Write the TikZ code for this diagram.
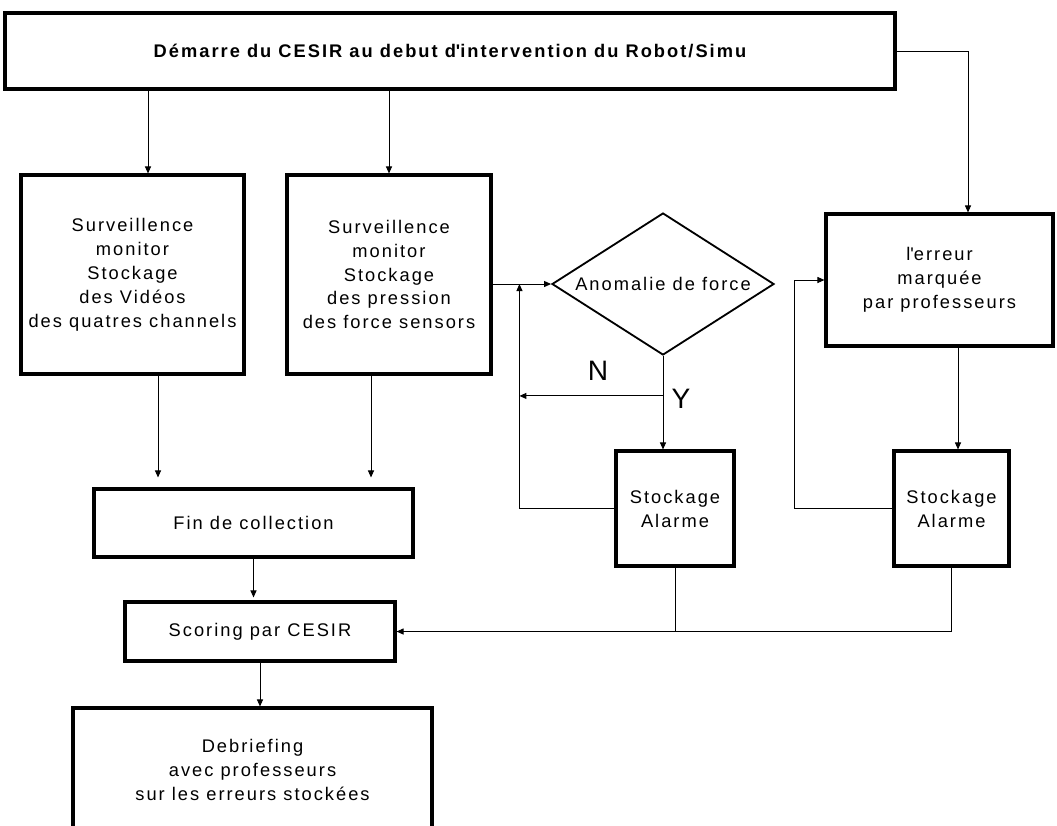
\documentclass[tikz,border=0pt]{standalone}
\usepackage{fontspec}
\setmainfont{Liberation Sans}[LetterSpace=11]
\usetikzlibrary{shapes.geometric, arrows.meta, calc}

\newlength\px
\setlength\px{0.025cm}
\newcommand\flowfont{\fontsize{13}{17}\selectfont}

\tikzset{
    block/.style={draw, line width=2.2pt, align=center, inner sep=0pt, font=\flowfont},
    decision/.style={draw, diamond, line width=1.3pt, inner sep=0pt},
    line/.style={line width=0.7pt},
    arr/.style={line, -{Triangle[length=1.75mm, width=1.5mm]}},
}

\begin{document}
\begin{tikzpicture}[x=0.025cm, y=-0.025cm]
    \useasboundingbox (0,0) rectangle (1057,825);

    % blocs
    \node[block, minimum width=890\px, minimum height=76\px, font=\flowfont\bfseries] (start) at (450,51) {Démarre du CESIR au debut d\textquotesingle intervention du Robot/Simu};
    \node[block, minimum width=223\px, minimum height=199\px] (surv1) at (132.5,274.5) {Surveillence\\monitor\\Stockage\\des Vidéos\\des quatres channels};
    \node[block, minimum width=204\px, minimum height=199\px] (surv2) at (389,274.5) {Surveillence\\monitor\\Stockage\\des pression\\des force sensors};
    \node[decision, minimum width=222\px, minimum height=142\px, label={[font=\flowfont]center:Anomalie de force}] (anomaly) at (663,284) {};
    \node[block, minimum width=227\px, minimum height=132\px] (err) at (939.5,280) {l\textquotesingle erreur\\marquée\\par professeurs};
    \node[block, minimum width=118\px, minimum height=115\px] (sa1) at (675,508.5) {Stockage\\Alarme};
    \node[block, minimum width=115\px, minimum height=115\px] (sa2) at (951.5,508.5) {Stockage\\Alarme};
    \node[block, minimum width=319\px, minimum height=68\px] (fin) at (253.5,523) {Fin de collection};
    \node[block, minimum width=270\px, minimum height=59\px] (scoring) at (260,631.5) {Scoring par CESIR};
    \node[block, minimum width=359\px, minimum height=124\px] (debrief) at (252.5,770) {Debriefing\\avec professeurs\\sur les erreurs stockées};

    \node[font=\fontsize{20}{24}\selectfont] (lblN) at (598,371) {N};
    \node[font=\fontsize{20}{24}\selectfont] (lblY) at (681,399) {Y};

    % depuis le demarrage
    \coordinate (k1) at ($(surv1.north)+(15.5,0)$);
    \draw[arr] (start.south -| k1) -- (k1);
    \draw[arr] (start.south -| surv2.north) -- (surv2.north);
    \coordinate (k2) at ($(err.north)+(28.5,0)$);
    \draw[arr] (start.east) -| (k2);

    % collecte
    \draw[arr] (surv2.east |- anomaly.west) -- (anomaly.west);
    \coordinate (k3) at ($(surv1.south)+(25.5,0)$);
    \draw[arr, shorten >=0.25cm] (k3) -- (k3 |- fin.north);
    \coordinate (k4) at ($(surv2.south)+(-18,0)$);
    \draw[arr, shorten >=0.25cm] (k4) -- (k4 |- fin.north);
    \draw[arr, shorten >=0.075cm] (fin.south) -- (fin.south |- scoring.north);
    \draw[arr] (scoring.south) -- (scoring.south |- debrief.north);

    % boucle anomalie
    \draw[arr] (anomaly.south) -- (anomaly.south |- sa1.north);
    \coordinate (nb) at ($(anomaly.south)+(0,40)$);
    \coordinate (back1) at ($(sa1.west)+(-95,0)$);
    \draw[arr] (nb) -- (nb -| back1);
    \draw[arr] (sa1.west) -- (back1) -- (back1 |- anomaly.west);

    % boucle professeurs
    \coordinate (k6) at ($(err.south)+(18.5,0)$);
    \draw[arr] (k6) -- (k6 |- sa2.north);
    \coordinate (back2) at ($(sa2.west)+(-98,0)$);
    \draw[arr] (sa2.west) -- (back2) |- (err.west);

    % vers le scoring
    \draw[line] (sa1.south) -- (sa1.south |- scoring.east);
    \draw[arr] (sa2.south) |- (scoring.east);
\end{tikzpicture}
\end{document}
